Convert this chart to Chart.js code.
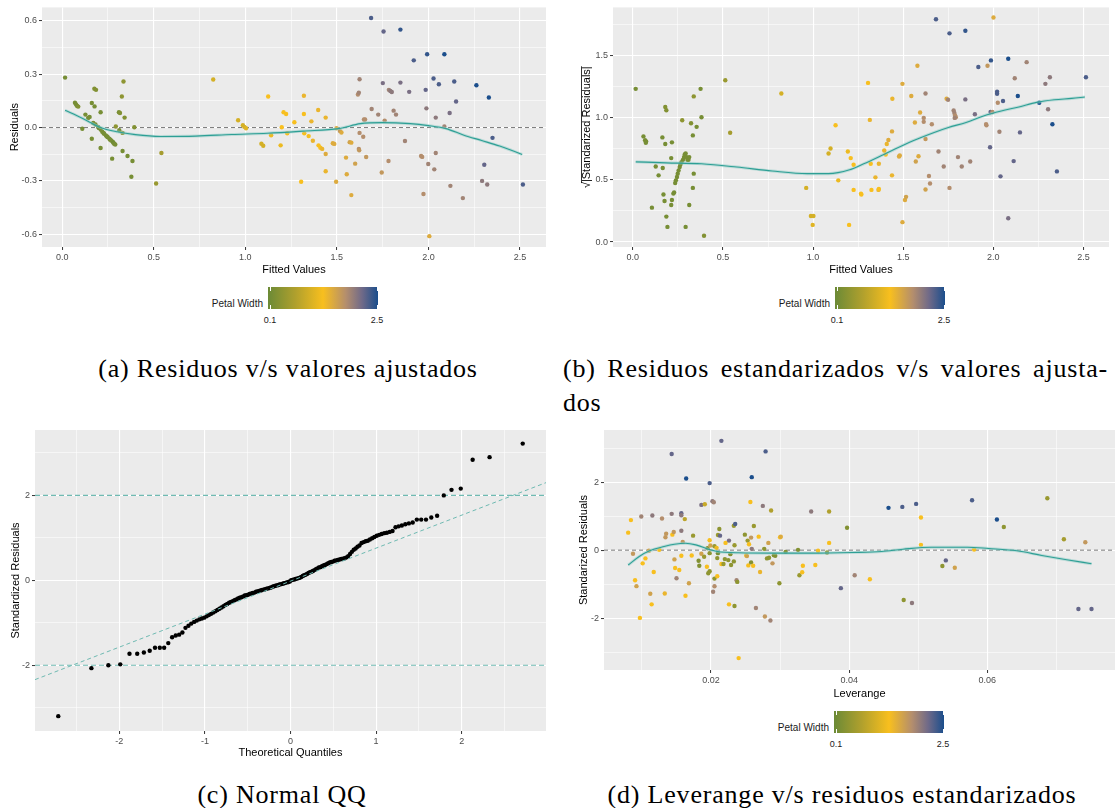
<!DOCTYPE html>
<html lang="es">
<head>
<meta charset="utf-8">
<title>Diagnóstico del modelo</title>
<script src="https://cdn.jsdelivr.net/npm/chart.js@4.4.1/dist/chart.umd.min.js"></script>
<style>
  body { margin:0; background:#fff; width:1119px; height:808px; position:relative; overflow:hidden;
         font-family:'Liberation Sans', Arial, sans-serif; }
  canvas { position:absolute; }
  .ley-txt { position:absolute; font-size:10px; line-height:12px; color:#1a1a1a; text-align:right; white-space:nowrap; }
  .barra { position:absolute; width:110px; height:22px; }
  .marca { position:absolute; width:1px; height:4px; background:#fff; }
  .etq { position:absolute; font-size:9px; line-height:11px; color:#1a1a1a; transform:translateX(-50%); }
  .pie { position:absolute; font-family:'Liberation Serif', 'DejaVu Serif', serif; font-size:26px; line-height:30px;
         letter-spacing:0.8px; color:#000; white-space:nowrap; }
</style>
</head>
<body>
<canvas id="panelA" width="550" height="280" style="left:0;top:0"></canvas>
<canvas id="panelB" width="559" height="280" style="left:560px;top:0"></canvas>
<canvas id="panelC" width="550" height="340" style="left:0;top:420px"></canvas>
<canvas id="panelD" width="559" height="285" style="left:560px;top:420px"></canvas>

<div class="pie" style="left:288px;top:354px;transform:translateX(-50%)">(a) Residuos v/s valores ajustados</div>
<div class="pie" style="left:563px;top:354px;width:545px;text-align:justify;text-align-last:justify">(b) Residuos estandarizados v/s valores ajusta-</div>
<div class="pie" style="left:563px;top:388px">dos</div>
<div class="pie" style="left:282px;top:780px;transform:translateX(-50%)">(c) Normal QQ</div>
<div class="pie" style="left:842px;top:780px;transform:translateX(-50%)">(d) Leverange v/s residuos estandarizados</div>

<script>
const FUENTE = "'Liberation Sans', Arial, sans-serif";

// escala de color para Petal Width
const escalaPW = [0.1, 0.7, 1.3, 1.8, 2.15, 2.5];
const escalaColor = ['#6b8a36', '#b0a02d', '#f8bf1e', '#b48e6d', '#706a88', '#1b4e8c'];

// marcas de los ejes
const ticksX_ajust = [0, 0.25, 0.5, 0.75, 1, 1.25, 1.5, 1.75, 2, 2.25, 2.5];
const mayoresX_ajust = [0, 0.5, 1, 1.5, 2, 2.5];
const ticksY_res = [-0.6, -0.45, -0.3, -0.15, 0, 0.15, 0.3, 0.45, 0.6];
const mayoresY_res = [-0.6, -0.3, 0, 0.3, 0.6];
const ticksY_raiz = [0, 0.25, 0.5, 0.75, 1, 1.25, 1.5, 1.75];
const mayoresY_raiz = [0, 0.5, 1, 1.5];
const ticksX_qq = [-2.5, -2, -1.5, -1, -0.5, 0, 0.5, 1, 1.5, 2, 2.5];
const mayoresX_qq = [-2, -1, 0, 1, 2];
const ticksY_std = [-3, -2, -1, 0, 1, 2, 3];
const mayoresY_std = [-2, 0, 2];
const ticksX_lev = [0.01, 0.02, 0.03, 0.04, 0.05, 0.06, 0.07];
const mayoresX_lev = [0.02, 0.04, 0.06];
const leyendaEtq = ['0.1', '2.5'];

// (a) residuos vs ajustados: [ajustado, residuo, petal width]
const puntosA = [
  [0.016,0.281,0.2],[0.070,0.140,0.2],[0.076,0.130,0.2],[0.082,0.121,0.2],[0.088,0.118,0.3],
  [0.110,-0.007,0.2],[0.127,0.073,0.2],[0.142,0.054,0.2],[0.150,0.060,0.2],[0.162,0.138,0.2],[0.162,-0.063,0.2],
  [0.176,0.218,0.3],[0.185,0.212,0.3],[0.177,0.119,0.2],[0.170,0.026,0.2],
  [0.182,0.017,0.2],[0.196,0.004,0.2],[0.200,-0.002,0.1],[0.210,-0.011,0.2],[0.219,-0.024,0.2],[0.226,-0.030,0.2],
  [0.229,-0.035,0.2],[0.239,-0.045,0.2],[0.245,-0.050,0.2],[0.249,-0.054,0.2],[0.258,-0.063,0.2],[0.262,-0.068,0.2],
  [0.268,-0.073,0.2],[0.276,-0.080,0.2],[0.280,-0.085,0.1],[0.284,-0.091,0.2],[0.290,-0.095,0.2],
  [0.210,0.086,0.2],[0.210,-0.115,0.2],[0.273,-0.175,0.2],[0.293,0.006,0.4],[0.310,0.086,0.2],[0.316,0.082,0.3],
  [0.312,-0.015,0.2],[0.326,0.175,0.4],[0.335,0.259,0.4],[0.330,-0.030,0.4],[0.330,-0.132,0.2],[0.341,0.056,0.3],
  [0.357,-0.160,0.2],[0.384,-0.188,0.2],[0.378,-0.277,0.2],[0.394,0.002,0.3],[0.513,-0.315,0.5],[0.542,-0.143,0.6],
  [0.825,0.270,1.0],[0.961,0.041,1.0],[0.987,0.013,1.0],[0.995,0.004,1.0],[1.004,-0.004,1.1],
  [1.088,-0.091,1.0],[1.098,-0.102,1.0],[1.125,0.175,1.3],[1.141,-0.043,1.2],[1.193,-0.100,1.2],[1.199,0.002,1.3],
  [1.209,0.086,1.3],[1.223,0.076,1.3],[1.229,-0.032,1.3],[1.268,0.030,1.3],[1.320,0.179,1.4],[1.320,0.076,1.3],
  [1.322,-0.032,1.3],[1.305,-0.305,1.3],[1.346,-0.048,1.3],[1.361,0.035,1.4],[1.369,-0.074,1.4],[1.398,0.099,1.4],
  [1.400,-0.100,1.3],[1.410,-0.114,1.3],[1.420,-0.120,1.4],[1.439,0.056,1.4],[1.439,-0.149,1.5],[1.439,-0.246,1.4],
  [1.478,-0.088,1.5],[1.486,-0.092,1.5],[1.496,-0.305,1.5],[1.498,-0.004,1.5],[1.517,-0.020,1.7],[1.525,-0.028,1.5],
  [1.550,-0.169,1.5],[1.554,-0.263,1.5],[1.570,-0.082,1.6],[1.579,-0.085,1.5],[1.579,-0.380,1.5],[1.600,-0.203,1.6],
  [1.615,0.186,1.8],[1.620,0.196,1.9],[1.624,0.272,1.9],[1.620,-0.120,1.8],[1.622,-0.128,1.7],[1.624,-0.030,1.8],
  [1.644,-0.052,1.8],[1.648,0.045,1.8],[1.654,0.045,1.8],[1.660,-0.166,1.7],[1.690,0.104,1.9],[1.687,0.616,2.3],
  [1.726,0.073,1.9],[1.745,-0.253,1.7],[1.751,0.250,2.1],[1.755,0.540,2.2],[1.761,0.039,1.8],[1.782,-0.188,1.8],
  [1.784,0.212,1.9],[1.792,0.206,2.0],[1.800,0.200,2.0],[1.810,0.095,1.9],[1.823,0.073,1.9],[1.847,0.551,2.4],
  [1.847,0.253,2.1],[1.872,-0.076,1.9],[1.895,0.201,2.1],[1.920,0.378,2.3],[1.960,-0.160,1.8],[1.966,-0.165,1.8],
  [1.973,-0.374,1.8],[1.985,0.212,2.2],[1.989,0.108,2.0],[1.993,0.412,2.4],[1.999,-0.205,1.9],[2.005,-0.611,1.5],
  [2.028,0.276,2.3],[2.032,-0.235,1.9],[2.040,-0.143,1.9],[2.040,0.056,2.0],[2.057,0.244,2.3],[2.087,0.412,2.5],
  [2.087,0.006,1.9],[2.116,0.082,2.1],[2.120,-0.328,1.9],[2.141,0.259,2.3],[2.151,0.147,2.2],[2.188,-0.397,1.9],
  [2.262,0.238,2.5],[2.293,-0.300,2.0],[2.305,-0.209,2.2],[2.321,-0.320,2.0],[2.330,0.169,2.5],[2.350,-0.058,2.3],
  [2.516,-0.320,2.3]
];
const suaveA_x = [0.016,0.107,0.205,0.300,0.400,0.536,0.730,0.926,1.121,1.316,1.511,1.628,1.745,1.901,1.999,2.096,2.194,2.291,2.389,2.512];
const suaveA_y = [0.097,0.054,0.002,-0.024,-0.040,-0.050,-0.048,-0.039,-0.032,-0.020,-0.006,0.022,0.028,0.022,0.011,-0.006,-0.043,-0.073,-0.104,-0.151];

// (b) raiz de |residuos estandarizados| vs ajustados
const puntosB = [
  [0.016,1.234,0.2],[0.059,0.851,0.2],[0.068,0.820,0.2],[0.074,0.810,0.2],[0.072,0.800,0.2],[0.127,0.609,0.2],
  [0.143,0.537,0.2],[0.164,0.843,0.2],[0.166,0.596,0.2],[0.170,0.383,0.2],[0.176,0.330,0.2],[0.106,0.277,0.2],
  [0.180,1.088,0.3],[0.186,1.061,0.3],[0.180,0.790,0.2],[0.186,0.205,0.2],[0.192,0.122,0.2],[0.217,0.803,0.2],
  [0.213,0.676,0.2],[0.217,0.338,0.2],[0.213,0.298,0.2],[0.225,0.390,0.2],[0.229,0.400,0.2],
  [0.235,0.476,0.2],[0.239,0.497,0.2],[0.245,0.524,0.2],[0.249,0.551,0.2],[0.254,0.577,0.2],[0.260,0.604,0.2],
  [0.264,0.625,0.2],[0.270,0.644,0.2],[0.278,0.662,0.2],[0.284,0.684,0.2],[0.288,0.705,0.2],[0.293,0.713,0.2],
  [0.299,0.684,0.2],[0.303,0.662,0.2],[0.309,0.662,0.2],[0.313,0.684,0.2],
  [0.274,0.981,0.4],[0.313,0.298,0.2],[0.293,0.122,0.2],[0.323,0.957,0.3],[0.333,0.859,0.2],[0.338,1.173,0.4],
  [0.338,0.551,0.2],[0.333,0.436,0.2],[0.354,0.928,0.2],[0.376,1.234,0.2],[0.381,1.005,0.2],[0.395,0.051,0.3],
  [0.513,1.303,0.5],[0.540,0.880,0.6],
  [0.824,1.197,1.0],[0.962,0.436,1.0],[0.988,0.210,1.0],[1.002,0.210,1.0],[0.998,0.138,1.1],[1.086,0.713,1.0],
  [1.097,0.753,1.0],[1.125,0.941,1.3],[1.140,0.497,1.2],[1.193,0.729,1.2],[1.200,0.138,1.3],[1.209,0.676,1.3],
  [1.225,0.622,1.3],[1.225,0.420,1.3],[1.266,0.390,1.3],[1.268,0.382,1.3],[1.305,1.282,1.3],[1.315,0.984,1.4],
  [1.320,0.630,1.3],[1.324,0.420,1.3],[1.346,0.521,1.4],[1.363,0.420,1.4],[1.365,0.427,1.3],[1.365,0.630,1.4],
  [1.395,0.737,1.4],[1.403,0.705,1.3],[1.409,0.790,1.4],[1.418,0.822,1.5],[1.438,0.891,1.5],[1.438,0.537,1.4],
  [1.440,1.154,1.4],[1.477,0.689,1.5],[1.481,0.697,1.5],[1.496,1.274,1.5],[1.496,0.160,1.5],[1.510,0.338,1.5],
  [1.516,0.364,1.6],[1.545,1.176,1.5],[1.565,0.963,1.5],[1.570,0.649,1.6],[1.579,1.420,1.5],[1.585,0.691,1.5],
  [1.594,1.043,1.5],[1.614,1.000,1.8],[1.614,0.968,1.8],[1.624,0.830,1.7],[1.624,1.197,1.9],[1.624,0.423,1.6],
  [1.643,0.532,1.8],[1.649,0.471,1.8],[1.659,0.949,1.8],[1.682,1.795,2.3],[1.696,0.729,1.9],[1.725,0.609,1.9],
  [1.741,1.154,1.5],[1.749,1.146,1.9],[1.757,1.681,2.3],[1.757,0.436,1.8],[1.780,1.060,1.9],[1.784,1.040,1.9],
  [1.788,1.020,1.8],[1.792,1.005,1.8],[1.786,1.000,1.9],[1.804,0.684,1.9],[1.825,0.609,1.9],[1.845,1.702,2.4],
  [1.845,1.149,2.1],[1.872,0.649,1.9],[1.898,1.029,2.1],[1.917,1.410,2.3],[1.960,0.950,1.8],[1.962,0.940,1.8],
  [1.968,1.420,1.7],[1.982,0.763,2.2],[1.985,1.048,2.2],[1.987,1.463,2.4],[1.995,1.048,1.8],[2.001,1.809,1.5],
  [2.021,1.210,2.3],[2.021,1.194,2.3],[2.025,1.122,1.8],[2.034,0.888,1.9],[2.040,0.529,2.2],[2.054,1.136,2.3],
  [2.083,1.476,2.5],[2.083,0.191,2.1],[2.113,0.652,2.2],[2.119,1.319,1.9],[2.136,1.176,2.5],[2.148,0.883,2.2],
  [2.185,1.449,1.9],[2.255,1.122,2.5],[2.289,1.274,2.0],[2.304,1.069,2.0],[2.314,1.327,2.0],[2.328,0.949,2.5],
  [2.353,0.569,2.3],[2.514,1.327,2.3]
];
const suaveB_x = [0.016,0.186,0.381,0.577,0.773,0.968,1.086,1.203,1.281,1.399,1.555,1.672,1.751,1.849,1.946,2.044,2.142,2.240,2.338,2.435,2.508];
const suaveB_y = [0.646,0.638,0.630,0.604,0.572,0.551,0.551,0.582,0.630,0.710,0.816,0.883,0.923,0.963,1.016,1.056,1.088,1.125,1.146,1.157,1.168];

// (c) QQ normal: cuantiles teóricos y residuos estandarizados ordenados
const qqTeorico = [
  -2.713,-2.326,-2.128,-1.989,-1.881,-1.791,-1.713,-1.645,-1.583,-1.527,
  -1.476,-1.428,-1.383,-1.341,-1.301,-1.263,-1.227,-1.192,-1.159,-1.126,
  -1.095,-1.065,-1.036,-1.008,-0.980,-0.954,-0.928,-0.903,-0.878,-0.854,
  -0.830,-0.806,-0.783,-0.761,-0.739,-0.717,-0.696,-0.674,-0.654,-0.633,
  -0.613,-0.593,-0.573,-0.553,-0.534,-0.515,-0.496,-0.477,-0.458,-0.440,
  -0.421,-0.403,-0.385,-0.367,-0.349,-0.332,-0.314,-0.297,-0.279,-0.262,
  -0.245,-0.228,-0.210,-0.193,-0.176,-0.159,-0.143,-0.126,-0.109,-0.092,
  -0.075,-0.059,-0.042,-0.025,-0.008,
  0.008,0.025,0.042,0.059,0.075,0.092,0.109,0.126,0.143,0.159,
  0.176,0.193,0.210,0.228,0.245,0.262,0.279,0.297,0.314,0.332,
  0.349,0.367,0.385,0.403,0.421,0.440,0.458,0.477,0.496,0.515,
  0.534,0.553,0.573,0.593,0.613,0.633,0.654,0.674,0.696,0.717,
  0.739,0.761,0.783,0.806,0.830,0.854,0.878,0.903,0.928,0.954,
  0.980,1.008,1.036,1.065,1.095,1.126,1.159,1.192,1.227,1.263,
  1.301,1.341,1.383,1.428,1.476,1.527,1.583,1.645,1.713,1.791,
  1.881,1.989,2.128,2.326,2.713
];
const qqMuestra = [
  -3.20,-2.07,-2.00,-1.98,-1.73,-1.73,-1.70,-1.66,-1.59,-1.59,
  -1.59,-1.48,-1.34,-1.30,-1.28,-1.23,-1.12,-1.07,-1.02,-0.98,
  -0.95,-0.92,-0.90,-0.88,-0.85,-0.82,-0.79,-0.76,-0.73,-0.70,
  -0.67,-0.64,-0.61,-0.58,-0.56,-0.53,-0.51,-0.49,-0.47,-0.45,
  -0.43,-0.41,-0.40,-0.38,-0.36,-0.35,-0.34,-0.32,-0.31,-0.30,
  -0.29,-0.27,-0.26,-0.25,-0.24,-0.23,-0.22,-0.21,-0.20,-0.19,
  -0.18,-0.17,-0.15,-0.14,-0.13,-0.12,-0.11,-0.10,-0.09,-0.08,
  -0.07,-0.06,-0.05,-0.04,-0.03,
  0.00,0.01,0.02,0.03,0.04,0.05,0.06,0.08,0.10,0.12,
  0.13,0.15,0.17,0.19,0.20,0.22,0.24,0.26,0.28,0.30,
  0.31,0.33,0.35,0.36,0.38,0.40,0.42,0.43,0.44,0.46,
  0.47,0.48,0.49,0.50,0.51,0.52,0.54,0.57,0.62,0.67,
  0.72,0.75,0.79,0.82,0.88,0.90,0.92,0.93,0.96,0.99,
  1.02,1.05,1.07,1.09,1.11,1.12,1.14,1.16,1.25,1.27,
  1.29,1.32,1.34,1.36,1.43,1.43,1.43,1.48,1.52,2.00,
  2.13,2.16,2.84,2.90,3.22
];
const qqLinea_x = [-2.985, 2.985];
const qqLinea_y = [-2.34, 2.30];
const qqBandas = [-2, 2];

// (d) leverage vs residuos estandarizados
const puntosD = [
  [0.0080,0.516,1.3],[0.0084,0.886,1.3],[0.0087,-0.107,1.7],[0.0090,-0.886,1.3],[0.0092,-1.060,1.6],[0.0097,-1.995,1.3],
  [0.0099,0.993,1.9],[0.0101,-0.389,1.3],[0.0105,-0.243,1.3],[0.0110,-0.019,1.6],[0.0112,-1.285,1.6],[0.0114,-1.596,1.3],
  [0.0115,1.022,2.0],[0.0117,-0.642,1.3],[0.0125,0.010,1.3],[0.0129,0.934,1.8],[0.0133,-1.275,1.4],[0.0134,0.380,1.7],
  [0.0135,0.487,1.7],[0.0143,2.832,2.2],[0.0143,1.070,2.0],[0.0144,0.457,1.3],[0.0146,0.535,1.7],[0.0147,-0.272,1.6],
  [0.0148,-0.526,1.3],[0.0150,-0.827,1.9],[0.0154,-0.584,1.3],[0.0157,1.090,2.2],[0.0157,1.030,2.0],[0.0157,0.574,2.0],
  [0.0157,-0.165,1.3],[0.0159,0.243,1.7],[0.0162,0.915,0.8],[0.0164,2.112,2.5],[0.0163,-1.343,1.3],[0.0168,-0.973,1.6],
  [0.0172,-0.156,1.3],[0.0174,0.428,0.5],[0.0182,-0.311,0.3],[0.0183,-0.457,0.3],[0.0186,1.333,2.1],[0.0186,-0.107,1.6],
  [0.0190,-0.195,0.5],[0.0191,1.353,0.9],[0.0194,-0.487,1.3],[0.0195,0.058,0.3],[0.0196,-0.681,0.4],[0.0198,-0.623,0.4],
  [0.0198,1.976,2.3],[0.0198,0.292,1.3],[0.0199,0.136,1.6],[0.0198,-0.088,0.4],[0.0202,1.440,2.0],[0.0203,-1.226,1.9],
  [0.0204,1.411,1.9],[0.0205,-0.837,0.4],[0.0205,-1.061,1.8],[0.0205,0.117,0.5],[0.0208,0.068,1.2],[0.0209,-0.769,1.3],
  [0.0209,-0.234,0.4],[0.0210,-0.088,0.2],[0.0210,0.448,0.5],[0.0212,0.623,0.4],[0.0213,0.428,2.2],[0.0215,3.220,2.2],
  [0.0215,-0.409,1.3],[0.0218,-0.409,0.5],[0.0220,-0.263,0.4],[0.0221,0.214,1.3],[0.0225,-0.292,0.4],[0.0226,-1.596,1.3],
  [0.0226,0.282,2.1],[0.0228,-0.117,0.3],[0.0229,-0.438,0.4],[0.0234,0.146,0.5],[0.0233,0.720,0.5],[0.0234,-1.645,0.4],
  [0.0235,0.769,2.3],[0.0233,-0.331,0.4],[0.0237,-0.886,1.9],[0.0238,-0.934,0.4],[0.0240,-3.180,1.3],[0.0249,0.457,0.4],
  [0.0251,-0.156,1.3],[0.0252,-0.175,1.6],[0.0253,0.282,0.5],[0.0254,-0.448,1.3],[0.0255,0.175,1.3],[0.0257,1.421,1.3],
  [0.0258,0.370,1.7],[0.0258,-0.360,0.3],[0.0259,0.039,2.0],[0.0259,2.151,2.5],[0.0261,-0.457,1.3],[0.0262,0.710,0.5],
  [0.0265,-1.703,1.9],[0.0269,0.399,1.3],[0.0271,-0.642,1.4],[0.0275,1.304,2.0],[0.0277,0.039,0.4],[0.0279,2.910,2.3],
  [0.0278,-1.956,1.7],[0.0281,-0.243,0.4],[0.0283,0.214,1.6],[0.0284,-0.224,0.4],[0.0286,-2.073,1.9],[0.0287,1.168,0.7],
  [0.0289,-0.389,1.7],[0.0291,-0.146,0.3],[0.0293,-0.165,0.3],[0.0299,-0.973,0.4],[0.0300,0.380,1.3],[0.0301,0.399,1.5],
  [0.0308,-0.049,0.3],[0.0326,0.010,0.3],[0.0328,-0.740,0.5],[0.0332,-0.652,1.3],[0.0333,-0.457,1.3],[0.0345,1.139,2.0],
  [0.0351,-0.438,1.3],[0.0355,-0.019,1.3],[0.0368,-0.068,0.4],[0.0371,0.214,1.3],[0.0371,1.139,0.7],[0.0388,-1.119,2.2],
  [0.0397,0.662,0.3],[0.0408,-0.740,1.9],[0.0430,-0.856,1.3],[0.0457,1.246,2.5],[0.0477,1.275,2.3],[0.0479,-1.470,0.4],
  [0.0491,-1.557,2.0],[0.0497,1.363,2.3],[0.0504,0.964,1.3],[0.0504,0.156,1.3],[0.0535,-0.467,0.4],[0.0540,-0.302,2.2],
  [0.0553,-0.516,1.6],[0.0578,1.470,2.3],[0.0581,0.019,1.3],[0.0614,0.905,2.5],[0.0624,0.681,0.4],[0.0687,1.528,0.5],
  [0.0711,0.321,0.6],[0.0732,-1.732,2.2],[0.0742,0.234,1.7],[0.0751,-1.732,2.2]
];
const suaveD_x = [0.0080,0.0096,0.0111,0.0132,0.0147,0.0163,0.0178,0.0199,0.0209,0.0240,0.0292,0.0343,0.0405,0.0447,0.0478,0.0519,0.0571,0.0602,0.0643,0.0679,0.0715,0.0751];
const suaveD_y = [-0.438,-0.185,-0.019,0.107,0.175,0.204,0.156,0.010,-0.039,-0.078,-0.088,-0.088,-0.068,-0.039,0.029,0.088,0.088,0.049,-0.019,-0.156,-0.282,-0.399];

// ---------- utilidades ----------
function hexRgb(h) { return [1, 3, 5].map(i => parseInt(h.slice(i, i + 2), 16)); }
function colorPW(w) {
  let i = 0;
  while (i < escalaPW.length - 2 && w > escalaPW[i + 1]) i++;
  const t = Math.min(1, Math.max(0, (w - escalaPW[i]) / (escalaPW[i + 1] - escalaPW[i])));
  const a = hexRgb(escalaColor[i]), b = hexRgb(escalaColor[i + 1]);
  const c = a.map((v, k) => Math.round(v + (b[k] - v) * t));
  return `rgb(${c[0]},${c[1]},${c[2]})`;
}
const esMayor = (lista, v) => lista.some(m => Math.abs(m - v) < 1e-9);
const xy = (xs, ys) => xs.map((x, i) => ({ x, y: ys[i] }));

function eje(o) {
  return {
    type: 'linear', min: o.min, max: o.max,
    border: { display: false },
    afterBuildTicks: s => { s.ticks = o.ticks.map(v => ({ value: v })); },
    afterFit: s => { if (o.ancho) s.width = o.ancho; if (o.alto) s.height = o.alto; },
    grid: {
      color: '#ffffff',
      lineWidth: c => (c.tick && esMayor(o.mayores, c.tick.value)) ? 1.1 : 0.55,
      tickLength: 3, tickWidth: 1,
      tickColor: c => (c.tick && esMayor(o.mayores, c.tick.value)) ? '#333333' : 'rgba(0,0,0,0)'
    },
    ticks: {
      autoSkip: false, maxRotation: 0, padding: 2, color: '#4d4d4d',
      font: { family: FUENTE, size: 9 },
      callback: v => esMayor(o.mayores, v) ? o.fmt(v) : ''
    },
    title: { display: true, text: o.titulo, color: '#000', font: { family: FUENTE, size: 11 }, padding: o.pad }
  };
}

const fondoPanel = {
  id: 'fondoPanel',
  beforeDraw(ch) {
    const { ctx, chartArea: a } = ch;
    ctx.save();
    ctx.fillStyle = '#ebebeb';
    ctx.fillRect(a.left, a.top, a.right - a.left, a.bottom - a.top);
    ctx.restore();
  }
};

// raíz sobre el título del eje y en (b)
const raizTitulo = {
  id: 'raizTitulo',
  afterDraw(ch) {
    const s = ch.scales.y, ctx = ch.ctx;
    ctx.save();
    ctx.font = `11px ${FUENTE}`;
    const w = ctx.measureText(s.options.title.text).width;
    const r = ctx.measureText('√').width;
    const cx = s.left + 6.6 + 20.4 - 5.5;
    const cy = (ch.chartArea.top + ch.chartArea.bottom) / 2;
    ctx.strokeStyle = '#000'; ctx.lineWidth = 0.8;
    ctx.beginPath();
    ctx.moveTo(cx, cy + w / 2 - r + 1);
    ctx.lineTo(cx, cy - w / 2);
    ctx.stroke();
    ctx.restore();
  }
};

function nubePuntos(lista) {
  return {
    data: lista.map(p => ({ x: p[0], y: p[1] })),
    pointRadius: 2.2, pointBorderWidth: 0,
    pointBackgroundColor: lista.map(p => colorPW(p[2])),
    showLine: false, order: 2
  };
}
function suavizado(xs, ys) {
  return [
    { data: xy(xs, ys), showLine: true, pointRadius: 0, borderColor: 'rgba(150,205,200,0.55)', borderWidth: 3,
      cubicInterpolationMode: 'monotone', order: 1 },
    { data: xy(xs, ys), showLine: true, pointRadius: 0, borderColor: '#2e9f95', borderWidth: 1.1,
      cubicInterpolationMode: 'monotone', order: 0 }
  ];
}
function lineaCero(xmin, xmax) {
  return { data: [{ x: xmin, y: 0 }, { x: xmax, y: 0 }], showLine: true, pointRadius: 0,
           borderColor: '#7a7a7a', borderWidth: 1, borderDash: [4, 3], order: 3 };
}

function crearPanel(id, datasets, escalas, padding, extra) {
  new Chart(document.getElementById(id), {
    type: 'scatter',
    data: { datasets },
    options: {
      responsive: false, animation: false,
      layout: { padding },
      plugins: { legend: { display: false }, tooltip: { enabled: false } },
      scales: escalas
    },
    plugins: [fondoPanel].concat(extra || [])
  });
}

const f1 = v => v.toFixed(1);
const f2 = v => v.toFixed(2);
const f0 = v => String(Math.round(v));

// (a)
crearPanel('panelA',
  [lineaCero(-0.110, 2.642), nubePuntos(puntosA), ...suavizado(suaveA_x, suaveA_y)],
  {
    x: eje({ min: -0.110, max: 2.642, ticks: ticksX_ajust, mayores: mayoresX_ajust, fmt: f1, alto: 33,
             titulo: 'Fitted Values', pad: { top: 0, bottom: 3.4 } }),
    y: eje({ min: -0.672, max: 0.676, ticks: ticksY_res, mayores: mayoresY_res, fmt: f1, ancho: 42,
             titulo: 'Residuals', pad: { top: 8.4, bottom: 0 } })
  },
  { left: 0, top: 6, right: 4, bottom: 0 });

// (b)
crearPanel('panelB',
  [nubePuntos(puntosB), ...suavizado(suaveB_x, suaveB_y)],
  {
    x: eje({ min: -0.110, max: 2.642, ticks: ticksX_ajust, mayores: mayoresX_ajust, fmt: f1, alto: 33,
             titulo: 'Fitted Values', pad: { top: 0, bottom: 3.4 } }),
    y: eje({ min: -0.04, max: 1.89, ticks: ticksY_raiz, mayores: mayoresY_raiz, fmt: f1, ancho: 53,
             titulo: '√|Standarized Residuals|', pad: { top: 20.4, bottom: 0 } })
  },
  { left: 0, top: 6, right: 10, bottom: 0 }, [raizTitulo]);

// (c)
const bandaQQ = qqBandas.map(b => ({
  data: [{ x: -2.985, y: b }, { x: 2.985, y: b }], showLine: true, pointRadius: 0,
  borderColor: '#6fbab2', borderWidth: 1.1, borderDash: [5, 3], order: 3
}));
crearPanel('panelC',
  [
    ...bandaQQ,
    { data: xy(qqLinea_x, qqLinea_y), showLine: true, pointRadius: 0, borderColor: '#6fbab2',
      borderWidth: 1, borderDash: [4, 3], order: 1 },
    { data: xy(qqTeorico, qqMuestra), pointRadius: 2.2, pointBorderWidth: 0,
      pointBackgroundColor: '#000', showLine: false, order: 2 }
  ],
  {
    x: eje({ min: -2.985, max: 2.985, ticks: ticksX_qq, mayores: mayoresX_qq, fmt: f0, alto: 29,
             titulo: 'Theoretical Quantiles', pad: { top: 0, bottom: 0.1 } }),
    y: eje({ min: -3.55, max: 3.54, ticks: ticksY_std, mayores: mayoresY_std, fmt: f0, ancho: 35,
             titulo: 'Standardized Residuals', pad: { top: 9.4, bottom: 0 } })
  },
  { left: 0, top: 10, right: 4, bottom: 0 });

// (d)
crearPanel('panelD',
  [lineaCero(0.0045, 0.0785), nubePuntos(puntosD), ...suavizado(suaveD_x, suaveD_y)],
  {
    x: eje({ min: 0.0045, max: 0.0785, ticks: ticksX_lev, mayores: mayoresX_lev, fmt: f2, alto: 35,
             titulo: 'Leverange', pad: { top: 0, bottom: 4.4 } }),
    y: eje({ min: -3.53, max: 3.54, ticks: ticksY_std, mayores: mayoresY_std, fmt: f0, ancho: 44,
             titulo: 'Standarized Residuals', pad: { top: 17.8, bottom: 0 } })
  },
  { left: 0, top: 10, right: 2, bottom: 0 });

// barras de color de Petal Width
const gradiente = 'linear-gradient(to right,' +
  escalaColor.map((c, i) => `${c} ${((escalaPW[i] - 0.1) / 2.4 * 100).toFixed(1)}%`).join(',') + ')';
function leyenda(xBarra, yBarra) {
  const add = (cls, css, txt) => {
    const d = document.createElement('div');
    d.className = cls; Object.assign(d.style, css);
    if (txt) d.textContent = txt;
    document.body.appendChild(d);
  };
  add('ley-txt', { right: (1119 - xBarra + 5) + 'px', top: (yBarra + 11) + 'px' }, 'Petal Width');
  add('barra', { left: xBarra + 'px', top: yBarra + 'px', background: gradiente });
  [xBarra + 1.5, xBarra + 108.5].forEach(x => {
    add('marca', { left: x + 'px', top: yBarra + 'px' });
    add('marca', { left: x + 'px', top: (yBarra + 18) + 'px' });
  });
  add('etq', { left: (xBarra + 2) + 'px', top: (yBarra + 28) + 'px' }, leyendaEtq[0]);
  add('etq', { left: (xBarra + 109) + 'px', top: (yBarra + 28) + 'px' }, leyendaEtq[1]);
}
leyenda(268, 287);
leyenda(835, 287);
leyenda(834, 711);
</script>
</body>
</html>
